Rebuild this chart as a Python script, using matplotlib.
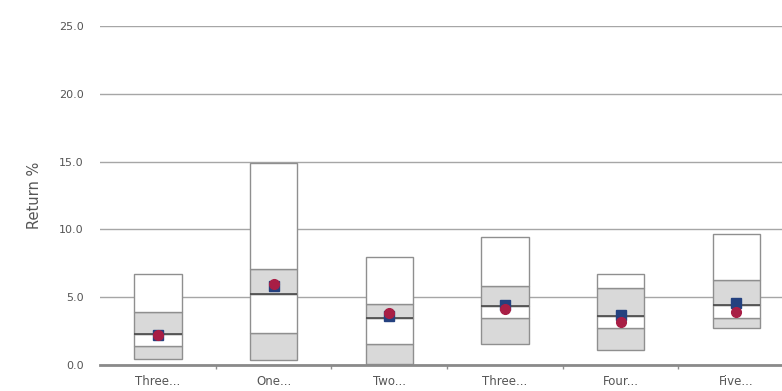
"""
Floating percentile bars with two return markers per period.
"""

import numpy as np
import matplotlib.pyplot as plt

categories = ["Three...", "One...", "Two...", "Three...", "Four...", "Five..."]
p5 = [0.45, 0.37, 0.1, 1.55, 1.1, 2.7]
p25 = [1.4, 2.35, 1.55, 3.45, 2.7, 3.45]
p50 = [2.3, 5.2, 3.5, 4.35, 3.6, 4.4]
p75 = [3.9, 7.1, 4.5, 5.8, 5.7, 6.25]
p95 = [6.7, 14.9, 8.0, 9.45, 6.7, 9.65]
blue_vals = [2.2, 5.8, 3.6, 4.4, 3.7, 4.55]
red_vals = [2.2, 6.0, 3.8, 4.1, 3.2, 3.9]
yticks = [0, 5, 10, 15, 20, 25]

GRAY_FILL = "#d9d9d9"
EDGE = "#8f8f8f"
TEXT = "#555555"

fig = plt.figure(figsize=(7.82, 3.91), dpi=100)
ax = fig.add_axes([0.128, 0.0665, 0.8875, 0.867])

x = np.arange(len(categories))
w = 0.41

# bands: 5-25 gray, 25-50 white, 50-75 gray, 75-95 white
lows = [p5, p25, p50, p75]
highs = [p25, p50, p75, p95]
fills = [GRAY_FILL, "white", GRAY_FILL, "white"]
for lo, hi, fc in zip(lows, highs, fills):
    lo = np.array(lo)
    hi = np.array(hi)
    ax.bar(x, hi - lo, bottom=lo, width=w, color=fc, edgecolor=EDGE,
           linewidth=1.0, zorder=3)

# median line
ax.hlines(p50, x - w / 2, x + w / 2, colors="#4a4a4a", linewidth=1.2, zorder=4)

ax.plot(x, blue_vals, "s", color="#24417f", markersize=7, linestyle="none", zorder=5)
ax.plot(x, red_vals, "o", color="#a81e45", markersize=7, linestyle="none", zorder=6)

ax.set_xlim(-0.5, len(categories) - 0.5)
ax.set_ylim(0, 25)
ax.set_yticks(yticks)
ax.set_yticklabels([f"{v:.1f}" for v in yticks])
ax.yaxis.grid(True, color="#a6a6a6", linewidth=1.0, zorder=0)
ax.set_axisbelow(True)

ax.set_xticks(x)
ax.set_xticklabels(categories)
ax.set_xticks(np.arange(1, len(categories)) - 0.5, minor=True)
ax.tick_params(axis="x", which="major", length=0, pad=7, labelsize=8.5, labelcolor=TEXT)
ax.tick_params(axis="x", which="minor", length=3, color="#8f8f8f", width=1)
ax.tick_params(axis="y", length=0, pad=12, labelsize=8, labelcolor=TEXT)

for side in ["top", "right", "left"]:
    ax.spines[side].set_visible(False)
ax.spines["bottom"].set_color("#8a8a8a")
ax.spines["bottom"].set_linewidth(2.0)
ax.spines["bottom"].set_zorder(7)

ax.set_ylabel("Return %", fontsize=10.5, color=TEXT, labelpad=12)

plt.savefig("out.png", dpi=100)
plt.close(fig)
